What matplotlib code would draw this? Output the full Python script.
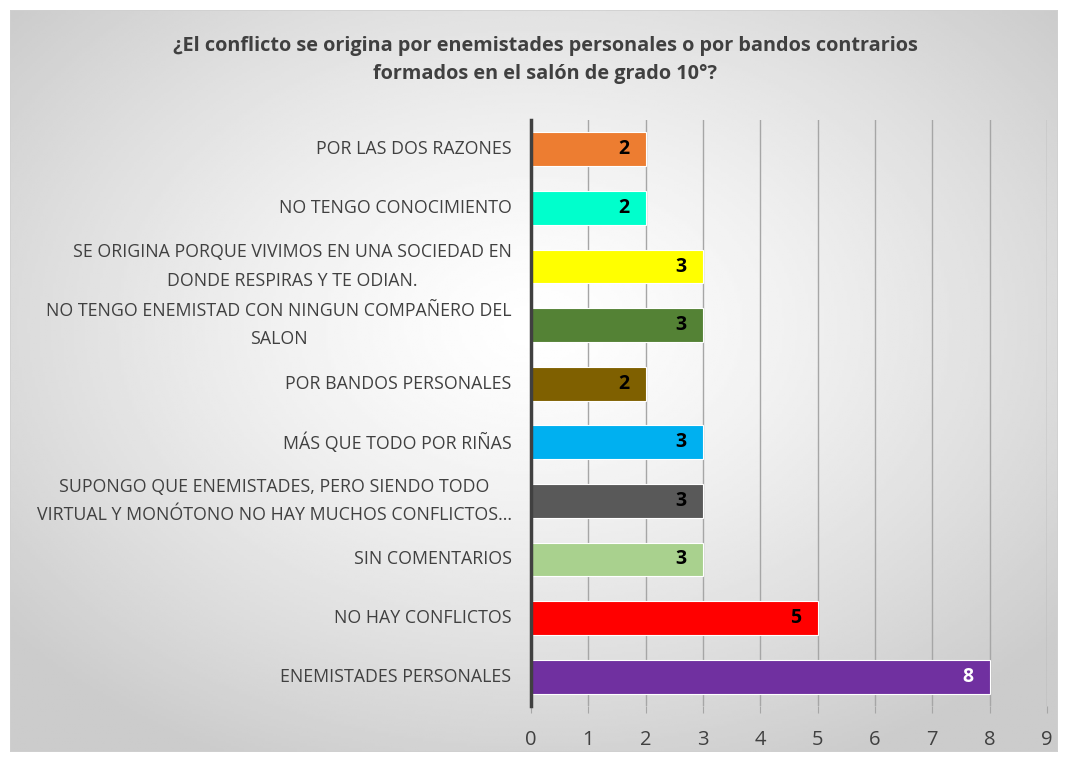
import numpy as np
import matplotlib.pyplot as plt
from matplotlib.patches import Rectangle

# data (bottom to top)
labels = [
    'ENEMISTADES PERSONALES',
    'NO HAY CONFLICTOS',
    'SIN COMENTARIOS',
    'SUPONGO QUE ENEMISTADES, PERO SIENDO TODO\nVIRTUAL Y MONÓTONO NO HAY MUCHOS CONFLICTOS...',
    'MÁS QUE TODO POR RIÑAS',
    'POR BANDOS PERSONALES',
    'NO TENGO ENEMISTAD CON NINGUN COMPAÑERO DEL\nSALON',
    'SE ORIGINA PORQUE VIVIMOS EN UNA SOCIEDAD EN\nDONDE RESPIRAS Y TE ODIAN.',
    'NO TENGO CONOCIMIENTO',
    'POR LAS DOS RAZONES',
]
values = [8, 5, 3, 3, 3, 2, 3, 3, 2, 2]
colors = ['#7030A0', '#FF0000', '#A9D18E', '#595959', '#00B0F0',
          '#7F6000', '#548235', '#FFFF00', '#00FFCC', '#ED7D31']
label_colors = ['white'] + ['black'] * 9

plt.rcParams['font.family'] = ['Open Sans', 'DejaVu Sans']

fig = plt.figure(figsize=(10.68, 7.62), dpi=100)

# radial gradient background
bg = fig.add_axes([10 / 1068, 10 / 762, 1048 / 1068, 742 / 762])
yy, xx = np.mgrid[-1:1:300j, -1:1:400j]
r = np.sqrt((xx * 1.0) ** 2 + ((yy + 0.15) * 1.0) ** 2)
img = 1.0 - 0.2 * np.clip(r / 1.3, 0, 1) ** 1.3
bg.imshow(img, cmap='gray', vmin=0, vmax=1, aspect='auto', extent=[0, 1, 0, 1])
bg.set_xlim(0, 1)
bg.set_ylim(0, 1)
bg.axis('off')
bg.add_patch(Rectangle((0, 0), 1, 1, transform=bg.transAxes, fill=False,
                       edgecolor='#D0D0D0', linewidth=1.2))

ax = fig.add_axes([531 / 1068, 1 - 706 / 762, 516 / 1068, 586 / 762])
ax.patch.set_alpha(0)
y = np.arange(len(labels))
bars = ax.barh(y, values, height=0.58, color=colors, edgecolor='white', linewidth=0.8, zorder=3)

for b, v, c in zip(bars, values, label_colors):
    ax.text(b.get_width() - 0.38, b.get_y() + b.get_height() / 2, str(v),
            ha='center', va='center', fontsize=14, fontweight='bold', color=c, zorder=4)

ax.set_xlim(0, 9)
ax.set_ylim(-0.5, len(labels) - 0.5)
ax.set_xticks(range(10))
ax.set_yticks(y)
ax.set_yticklabels(labels, fontsize=12.8, color='#404040', multialignment='center',
                   linespacing=1.75, va='center')
ax.tick_params(axis='y', length=0, pad=14)
ax.tick_params(axis='x', length=5, color='#A6A6A6', labelsize=14.5, labelcolor='#404040', pad=12)
ax.grid(axis='x', color='#A6A6A6', linewidth=1.0, zorder=0)
for s in ['top', 'right', 'bottom']:
    ax.spines[s].set_visible(False)
ax.spines['left'].set_color('#404040')
ax.spines['left'].set_linewidth(2.5)
ax.spines['left'].set_zorder(5)

fig.text(545 / 1068, 1 - 60 / 762,
         '¿El conflicto se origina por enemistades personales o por bandos contrarios\nformados en el salón de grado 10°?',
         ha='center', va='center', fontsize=14.3, fontweight='bold', color='#404040', linespacing=1.5)

fig.savefig('out.png', dpi=100)
